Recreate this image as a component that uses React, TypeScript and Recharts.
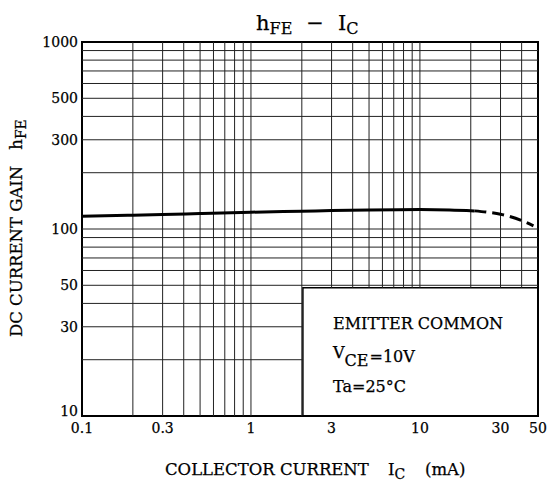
import React from "react";
import {
  LineChart,
  Line,
  XAxis,
  YAxis,
  ReferenceLine,
  ReferenceArea,
} from "recharts";

// collector current (mA) vs DC current gain hFE
const solidCurve = [
  { ic: 0.1, hfe: 117 },
  { ic: 0.2, hfe: 118.5 },
  { ic: 0.3, hfe: 119.5 },
  { ic: 0.5, hfe: 121 },
  { ic: 1, hfe: 123 },
  { ic: 2, hfe: 124.5 },
  { ic: 3, hfe: 125.5 },
  { ic: 5, hfe: 126.5 },
  { ic: 10, hfe: 127 },
  { ic: 15, hfe: 126.5 },
  { ic: 21, hfe: 125 },
];

const dashedCurve = [
  { ic: 21, hfe: 125 },
  { ic: 25, hfe: 123 },
  { ic: 30, hfe: 120 },
  { ic: 40, hfe: 111 },
  { ic: 47, hfe: 104 },
];

const xTicks = [0.1, 0.3, 1, 3, 10, 30, 50];
const yTicks = [10, 30, 50, 100, 300, 500, 1000];

const xGrid = [
  0.2, 0.3, 0.4, 0.5, 0.6, 0.7, 0.8, 0.9, 1, 2, 3, 4, 5, 6, 7, 8, 9, 10, 20,
  30, 40,
];
const yGrid = [
  20, 30, 40, 50, 60, 70, 80, 90, 100, 200, 300, 400, 500, 600, 700, 800, 900,
];

const X_MIN = 0.1;
const X_MAX = 50;
const Y_MIN = 10;
const Y_MAX = 1000;
// corner of the condition box (lower right of the plot)
const BOX_X = 2.03;
const BOX_Y = 48.5;

const FONT = "'DejaVu Serif', 'Liberation Serif', serif";
const ink = { fill: "#000", stroke: "#000", strokeWidth: 0.25 };

const YTick = (props: any) => {
  const { x, y, payload } = props;
  const shift = payload.value === Y_MIN ? -5 : 0;
  return (
    <text
      x={x}
      y={y + shift}
      dy="0.355em"
      textAnchor="end"
      fontSize={14}
      fontFamily={FONT}
      {...ink}
    >
      {payload.value}
    </text>
  );
};

const XTick = (props: any) => {
  const { x, y, payload } = props;
  return (
    <text
      x={x}
      y={y}
      dy="0.71em"
      textAnchor="middle"
      fontSize={14}
      fontFamily={FONT}
      {...ink}
    >
      {payload.value}
    </text>
  );
};

export default function App() {
  return (
    <div
      style={{
        position: "absolute",
        left: 0,
        top: 0,
        width: 550,
        height: 483,
        background: "#fff",
      }}
    >
      <LineChart
        width={550}
        height={483}
        margin={{ top: 42, right: 12, bottom: 37, left: 0 }}
      >
        <XAxis
          type="number"
          dataKey="ic"
          scale="log"
          domain={[X_MIN, X_MAX]}
          ticks={xTicks}
          allowDataOverflow
          axisLine={false}
          tickLine={false}
          tickSize={5}
          tickMargin={2}
          height={30}
          tick={<XTick />}
        />
        <YAxis
          type="number"
          dataKey="hfe"
          scale="log"
          domain={[Y_MIN, Y_MAX]}
          ticks={yTicks}
          allowDataOverflow
          axisLine={false}
          tickLine={false}
          tickSize={2}
          tickMargin={2}
          width={82}
          tick={<YTick />}
        />
        {xGrid.map((v) => (
          <ReferenceLine
            key={"x" + v}
            segment={[
              { x: v, y: v > BOX_X ? BOX_Y : Y_MIN },
              { x: v, y: Y_MAX },
            ]}
            stroke="#222"
            strokeWidth={1}
          />
        ))}
        {yGrid.map((v) => (
          <ReferenceLine
            key={"y" + v}
            segment={[
              { x: X_MIN, y: v },
              { x: v < BOX_Y ? BOX_X : X_MAX, y: v },
            ]}
            stroke="#222"
            strokeWidth={1}
          />
        ))}
        <ReferenceArea
          x1={BOX_X}
          x2={X_MAX}
          y1={Y_MIN}
          y2={BOX_Y}
          fill="#fff"
          fillOpacity={1}
          stroke="#000"
          strokeWidth={1.5}
        />
        <Line
          data={solidCurve}
          dataKey="hfe"
          type="monotone"
          stroke="#000"
          strokeWidth={3}
          dot={false}
          isAnimationActive={false}
        />
        <Line
          data={dashedCurve}
          dataKey="hfe"
          type="monotone"
          stroke="#000"
          strokeWidth={3}
          strokeDasharray="12 6"
          dot={false}
          isAnimationActive={false}
        />
        <ReferenceArea
          x1={X_MIN}
          x2={X_MAX}
          y1={Y_MIN}
          y2={Y_MAX}
          fill="none"
          stroke="#000"
          strokeWidth={2}
        />
      </LineChart>

      <svg
        width={550}
        height={483}
        style={{ position: "absolute", left: 0, top: 0, pointerEvents: "none" }}
        fontFamily={FONT}
      >
        {/* title */}
        <text x={256} y={30} fontSize={21} {...ink}>
          <tspan>h</tspan>
          <tspan fontSize={16} dy={4}>
            FE
          </tspan>
          <tspan dy={-4} dx={14}>
            −
          </tspan>
          <tspan dx={14}>I</tspan>
          <tspan fontSize={16} dy={4}>
            C
          </tspan>
        </text>

        {/* x axis title */}
        <text x={165} y={475} fontSize={16.5} {...ink}>
          COLLECTOR CURRENT
        </text>
        <text x={388} y={475} fontSize={16.5} {...ink}>
          <tspan>I</tspan>
          <tspan fontSize={14} dy={4}>
            C
          </tspan>
        </text>
        <text x={425} y={475} fontSize={16.5} {...ink}>
          (mA)
        </text>

        {/* y axis title */}
        <text
          x={22}
          y={337}
          fontSize={16.5}
          transform="rotate(-90, 22, 337)"
          {...ink}
        >
          <tspan>DC CURRENT GAIN</tspan>
          <tspan dx={16}>h</tspan>
          <tspan fontSize={14} dy={4}>
            FE
          </tspan>
        </text>

        {/* conditions */}
        <text x={333} y={329} fontSize={16} {...ink}>
          EMITTER COMMON
        </text>
        <text x={333} y={358} fontSize={16} {...ink}>
          <tspan>V</tspan>
          <tspan dy={8}>CE</tspan>
          <tspan dy={-4} dx={1}>
            =10V
          </tspan>
        </text>
        <text x={333} y={392} fontSize={16} {...ink}>
          Ta=25°C
        </text>
      </svg>
    </div>
  );
}
